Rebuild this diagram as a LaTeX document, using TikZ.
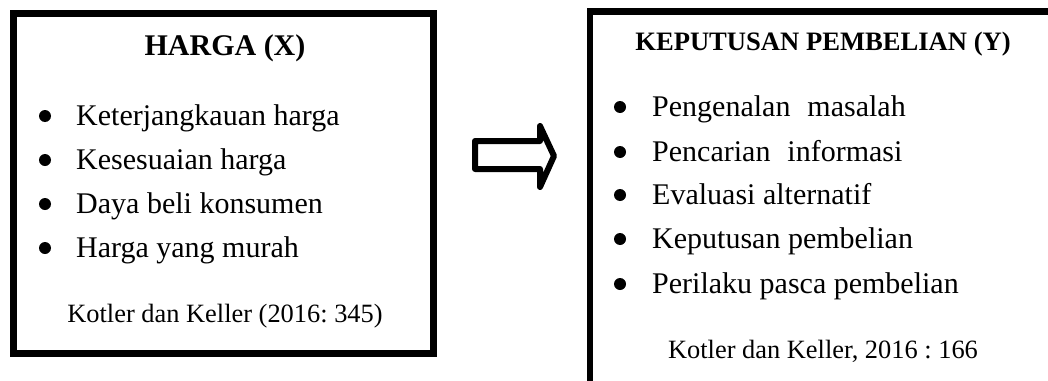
\documentclass[tikz,border=0pt]{standalone}
\usepackage{fontspec}
\setmainfont{Liberation Serif}
\frenchspacing
\begin{document}
\begin{tikzpicture}[x=1pt,y=-1pt,
  frame/.style={draw=black,line width=7pt},
  item/.style={anchor=base west,inner sep=0pt,font=\fontsize{30}{34}\selectfont},
  ttl/.style={anchor=base,inner sep=0pt,font=\bfseries\fontsize{30}{34}\selectfont},
  ttlb/.style={anchor=base,inner sep=0pt,font=\bfseries\fontsize{26.6}{30}\selectfont},
  src/.style={anchor=base,inner sep=0pt,font=\fontsize{26.4}{30}\selectfont},
  bul/.style={circle,fill=black,inner sep=0pt,minimum size=12pt},
  bigarrow/.style={draw=black,line width=6pt,line join=round,fill=white}]
\useasboundingbox (0,0) rectangle (1048,380);
\begin{scope}
\clip (0,0) rectangle (1048,380);
% left box
\draw[frame] (13.5,13.5) rectangle (433.5,353.5);
\node[ttl] (t1) at (225,55) {HARGA (X)};
\node[bul] (b1) at (45,116) {};
\node[bul] (b2) at (45,160) {};
\node[bul] (b3) at (45,204) {};
\node[bul] (b4) at (45,248) {};
\node[item] (i1) at (76,125) {Keterjangkauan harga};
\node[item] (i2) at (76,169) {Kesesuaian harga};
\node[item] (i3) at (76,213) {Daya beli konsumen};
\node[item] (i4) at (76,257) {Harga yang murah};
\node[src] (s1) at (225,322) {Kotler dan Keller (2016: 345)};
% arrow
\draw[bigarrow] (475,141) -- (540,141) -- (540,126) -- (554,156) -- (540,187) -- (540,169) -- (475,169) -- cycle;
% right box
\draw[frame,line width=6.5pt] (590,11.5) rectangle (1070,400);
\node[ttlb] (t2) at (823,50) {KEPUTUSAN PEMBELIAN (Y)};
\node[bul] (c1) at (620,107) {};
\node[bul] (c2) at (620,152) {};
\node[bul] (c3) at (620,195) {};
\node[bul] (c4) at (620,239) {};
\node[bul] (c5) at (620,284) {};
\node[item] (j1) at (652,116) {Pengenalan\hspace{17pt}masalah};
\node[item] (j2) at (652,161) {Pencarian\hspace{17pt}informasi};
\node[item] (j3) at (652,204) {Evaluasi alternatif};
\node[item] (j4) at (652,248) {Keputusan pembelian};
\node[item] (j5) at (652,293) {Perilaku pasca pembelian};
\node[src] (s2) at (823,358) {Kotler dan Keller, 2016 : 166};
\end{scope}
\end{tikzpicture}
\end{document}
